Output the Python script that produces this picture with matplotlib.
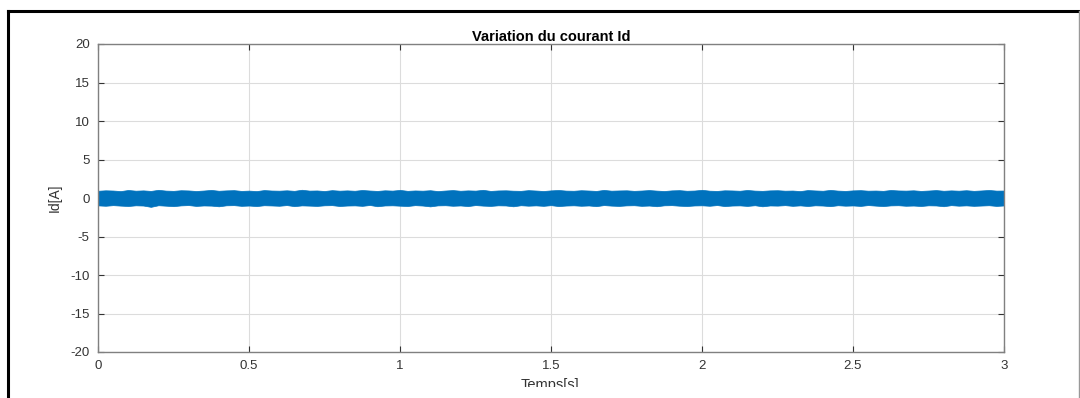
import numpy as np
import matplotlib
matplotlib.use('Agg')
import matplotlib.pyplot as plt
from matplotlib.lines import Line2D
from matplotlib.transforms import Bbox

# envelope of the Id current band (every 0.025 s)
t_env = np.arange(0, 3.0001, 0.025)
id_upper = [0.94, 1.00, 0.97, 0.90, 1.04, 0.95, 0.99, 0.92, 1.06, 0.96,
            0.93, 1.01, 0.98, 0.91, 0.97, 1.05, 0.94, 0.99, 1.02, 0.92,
            0.96, 0.90, 1.03, 0.97, 0.95, 1.00, 0.93, 1.07, 0.96, 0.98,
            0.91, 1.02, 0.95, 0.99, 0.94, 1.04, 0.97, 0.92, 1.00, 0.96,
            1.05, 0.93, 0.98, 0.95, 1.01, 0.90, 0.97, 1.03, 0.94, 0.99,
            0.96, 1.06, 0.92, 0.98, 1.00, 0.95, 0.93, 1.02, 0.97, 0.91,
            0.99, 1.04, 0.96, 0.94, 1.01, 0.97, 0.92, 1.05, 0.95, 0.98,
            1.00, 0.93, 0.97, 1.03, 0.96, 0.91, 0.99, 1.02, 0.94, 0.97,
            1.06, 0.95, 0.92, 1.00, 0.98, 0.94, 1.04, 0.96, 0.93, 0.99,
            1.01, 0.95, 0.97, 0.90, 1.03, 0.98, 0.94, 1.05, 0.96, 0.92,
            0.99, 1.02, 0.95, 0.97, 0.93, 1.04, 0.98, 0.96, 1.00, 0.92,
            0.97, 1.03, 0.94, 0.99, 0.95, 1.01, 0.93, 0.98, 1.04, 0.96, 0.97]
id_lower = [-0.96, -1.01, -0.93, -0.99, -1.04, -0.95, -0.98, -1.15, -0.94, -1.00,
            -1.06, -0.96, -0.92, -1.03, -0.97, -0.99, -1.08, -0.95, -0.93, -1.02,
            -0.98, -1.05, -0.94, -0.97, -1.01, -0.92, -1.06, -0.96, -0.99, -1.03,
            -0.95, -0.93, -1.04, -0.98, -0.96, -1.02, -0.91, -1.07, -0.97, -0.95,
            -1.00, -1.04, -0.93, -0.98, -1.09, -0.96, -0.94, -1.01, -0.97, -1.05,
            -0.92, -0.99, -1.03, -0.95, -0.97, -1.08, -0.94, -1.00, -0.96, -1.02,
            -0.93, -1.05, -0.98, -0.95, -1.01, -0.97, -1.06, -0.92, -0.99, -1.03,
            -0.96, -0.94, -1.02, -0.98, -1.07, -0.95, -0.93, -1.00, -1.04, -0.97,
            -0.95, -1.01, -0.92, -1.05, -0.98, -0.96, -1.03, -0.94, -1.08, -0.97,
            -0.99, -0.93, -1.02, -0.96, -1.04, -0.95, -0.98, -1.06, -0.94, -1.00,
            -0.97, -1.03, -0.92, -0.99, -1.05, -0.96, -0.94, -1.01, -0.98, -1.04,
            -0.95, -0.97, -1.07, -0.93, -1.00, -0.96, -1.02, -0.98, -0.94, -1.03, -0.97]

x_ticks = [0, 0.5, 1, 1.5, 2, 2.5, 3]
x_ticklabels = ['0', '0.5', '1', '1.5', '2', '2.5', '3']
y_ticks = [-20, -15, -10, -5, 0, 5, 10, 15, 20]

plt.rcParams['font.family'] = ['Liberation Sans', 'DejaVu Sans']
plt.rcParams['axes.unicode_minus'] = False

fig = plt.figure(figsize=(10.8, 3.98), dpi=100)
ax = fig.add_axes([98 / 1080, 1 - 352 / 398, 906 / 1080, 308 / 398])

blue = '#0072BD'
ax.fill_between(t_env, id_lower, id_upper, color=blue, edgecolor=blue, linewidth=0.5)

ax.set_xlim(0, 3)
ax.set_ylim(-20, 20)
ax.set_xticks(x_ticks)
ax.set_xticklabels(x_ticklabels)
ax.set_yticks(y_ticks)
ax.grid(True, color='#dcdcdc', linewidth=0.8)
ax.set_axisbelow(True)
ax.tick_params(direction='in', top=True, right=True, length=4, width=0.8,
               colors='#333333', labelsize=9.5, pad=6)
for s in ax.spines.values():
    s.set_color('#808080')
    s.set_linewidth(1.0)

ax.set_title('Variation du courant Id', fontsize=10.5, fontweight='bold', pad=2)
ax.set_ylabel('Id[A]', fontsize=10, color='#333333', labelpad=6)

# x label is cut off at the bottom in the original screenshot
xl = fig.text(550 / 1080, 1 - 378 / 398, 'Temps[s]', ha='center', va='top',
              fontsize=10.5, color='#333333')
xl.set_clip_on(True)
xl.set_clip_box(Bbox([[0, 398 - 387], [1080, 398]]))

# outer frame around the figure
fig.add_artist(Line2D([8 / 1080, 8 / 1080], [0, 1 - 11 / 398], color='black', lw=2.2))
fig.add_artist(Line2D([8 / 1080, 1079 / 1080], [1 - 11 / 398, 1 - 11 / 398], color='black', lw=2.2))
fig.add_artist(Line2D([1078.5 / 1080, 1078.5 / 1080], [0, 1 - 11 / 398], color='#999999', lw=1.0))

fig.savefig('out.png', dpi=100)
